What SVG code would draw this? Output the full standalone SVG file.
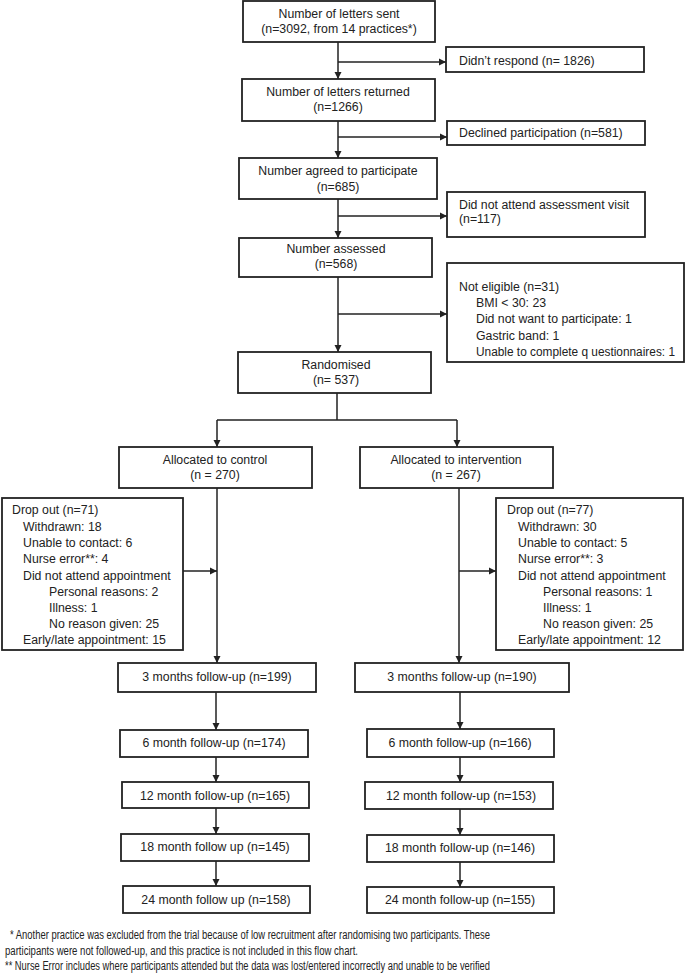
<svg xmlns="http://www.w3.org/2000/svg" width="685" height="975" viewBox="0 0 685 975">
<style>
.b{fill:#fff;stroke:#222;stroke-width:1.8}
.t{font-family:"Liberation Sans",Arial,sans-serif;font-size:12.3px;fill:#222}
.c{text-anchor:middle}
.l{fill:none;stroke:#222;stroke-width:1.5}
.f{font-family:"Liberation Sans",Arial,sans-serif;font-size:12.5px;fill:#222}
</style>
<defs>
<marker id="ah" markerUnits="userSpaceOnUse" markerWidth="8" markerHeight="8" refX="7" refY="4" orient="auto">
<path d="M0,0.5 L7,4 L0,7.5 z" fill="#222"/>
</marker>
</defs>
<rect width="685" height="975" fill="#fff"/>
<g id="connectors">
<path class="l" d="M338,42 V79" marker-end="url(#ah)"/>
<path class="l" d="M338,62 H446" marker-end="url(#ah)"/>
<path class="l" d="M338,121 V158" marker-end="url(#ah)"/>
<path class="l" d="M338,137 H447" marker-end="url(#ah)"/>
<path class="l" d="M338,199 V238" marker-end="url(#ah)"/>
<path class="l" d="M338,216 H447" marker-end="url(#ah)"/>
<path class="l" d="M338,277 V352" marker-end="url(#ah)"/>
<path class="l" d="M338,314 H447" marker-end="url(#ah)"/>
<path class="l" d="M337,393 V420 M217,420 H457"/>
<path class="l" d="M217,420 V447" marker-end="url(#ah)"/>
<path class="l" d="M457,420 V447" marker-end="url(#ah)"/>
<path class="l" d="M217,488 V663" marker-end="url(#ah)"/>
<path class="l" d="M183,571 H217" marker-end="url(#ah)"/>
<path class="l" d="M459,488 V663" marker-end="url(#ah)"/>
<path class="l" d="M459,571 H496" marker-end="url(#ah)"/>
<path class="l" d="M216,692 V730" marker-end="url(#ah)"/>
<path class="l" d="M216,757 V782" marker-end="url(#ah)"/>
<path class="l" d="M216,808 V834" marker-end="url(#ah)"/>
<path class="l" d="M216,861 V886" marker-end="url(#ah)"/>
<path class="l" d="M460,692 V729" marker-end="url(#ah)"/>
<path class="l" d="M460,757 V782" marker-end="url(#ah)"/>
<path class="l" d="M460,809 V835" marker-end="url(#ah)"/>
<path class="l" d="M460,862 V887" marker-end="url(#ah)"/>
</g>
<g id="sent"><rect class="b" x="243" y="1" width="192" height="41"/>
<text class="t c" x="339" y="18">Number of letters sent</text>
<text class="t c" x="339" y="33">(n=3092, from 14 practices*)</text></g>
<g id="norespond"><rect class="b" x="446" y="47" width="198" height="25"/>
<text class="t" x="459" y="65">Didn’t respond (n= 1826)</text></g>
<g id="returned"><rect class="b" x="242" y="79" width="193" height="42"/>
<text class="t c" x="338" y="96">Number of letters returned</text>
<text class="t c" x="338" y="111">(n=1266)</text></g>
<g id="declined"><rect class="b" x="447" y="121" width="198" height="24"/>
<text class="t" x="459" y="137">Declined participation (n=581)</text></g>
<g id="agreed"><rect class="b" x="239" y="158" width="198" height="41"/>
<text class="t c" x="338" y="175">Number agreed to participate</text>
<text class="t c" x="338" y="191">(n=685)</text></g>
<g id="noattend"><rect class="b" x="447" y="192" width="198" height="45"/>
<text class="t" x="459" y="209">Did not attend assessment visit</text>
<text class="t" x="459" y="223">(n=117)</text></g>
<g id="assessed"><rect class="b" x="239" y="238" width="193" height="39"/>
<text class="t c" x="336" y="253">Number assessed</text>
<text class="t c" x="336" y="268">(n=568)</text></g>
<g id="noteligible"><rect class="b" x="447" y="263" width="237" height="99"/>
<text class="t" x="459" y="291">Not eligible (n=31)</text>
<text class="t" x="476" y="307">BMI &lt; 30: 23</text>
<text class="t" x="476" y="323">Did not want to participate: 1</text>
<text class="t" x="476" y="340">Gastric band: 1</text>
<text class="t" x="476" y="356" textLength="199" lengthAdjust="spacingAndGlyphs">Unable to complete q uestionnaires: 1</text></g>
<g id="randomised"><rect class="b" x="238" y="352" width="193" height="41"/>
<text class="t c" x="336" y="369">Randomised</text>
<text class="t c" x="336" y="384">(n= 537)</text></g>
<g id="control"><rect class="b" x="119" y="447" width="193" height="41"/>
<text class="t c" x="215" y="464">Allocated to control</text>
<text class="t c" x="215" y="479">(n = 270)</text></g>
<g id="intervention"><rect class="b" x="360" y="447" width="193" height="41"/>
<text class="t c" x="456" y="464">Allocated to intervention</text>
<text class="t c" x="456" y="479">(n = 267)</text></g>
<g id="dropcontrol"><rect class="b" x="2" y="498" width="181" height="152"/>
<text class="t" x="12" y="514">Drop out (n=71)</text>
<text class="t" x="23" y="531">Withdrawn: 18</text>
<text class="t" x="23" y="547">Unable to contact: 6</text>
<text class="t" x="23" y="563">Nurse error**: 4</text>
<text class="t" x="23" y="580">Did not attend appointment</text>
<text class="t" x="49" y="596">Personal reasons: 2</text>
<text class="t" x="49" y="612">Illness: 1</text>
<text class="t" x="49" y="628">No reason given: 25</text>
<text class="t" x="23" y="644">Early/late appointment: 15</text></g>
<g id="dropintervention"><rect class="b" x="496" y="498" width="187" height="152"/>
<text class="t" x="507" y="514">Drop out (n=77)</text>
<text class="t" x="518" y="531">Withdrawn: 30</text>
<text class="t" x="518" y="547">Unable to contact: 5</text>
<text class="t" x="518" y="563">Nurse error**: 3</text>
<text class="t" x="518" y="580">Did not attend appointment</text>
<text class="t" x="543" y="596">Personal reasons: 1</text>
<text class="t" x="543" y="612">Illness: 1</text>
<text class="t" x="543" y="628">No reason given: 25</text>
<text class="t" x="518" y="644">Early/late appointment: 12</text></g>
<g id="c3"><rect class="b" x="118" y="663" width="198" height="29"/>
<text class="t c" x="217" y="681">3 months follow-up (n=199)</text></g>
<g id="i3"><rect class="b" x="355" y="663" width="214" height="29"/>
<text class="t c" x="462" y="681">3 months follow-up (n=190)</text></g>
<g id="c6"><rect class="b" x="120" y="730" width="188" height="27"/>
<text class="t c" x="214" y="747">6 month follow-up (n=174)</text></g>
<g id="i6"><rect class="b" x="367" y="729" width="187" height="28"/>
<text class="t c" x="460" y="747">6 month follow-up (n=166)</text></g>
<g id="c12"><rect class="b" x="122" y="782" width="187" height="26"/>
<text class="t c" x="215" y="800">12 month follow-up (n=165)</text></g>
<g id="i12"><rect class="b" x="365" y="782" width="188" height="27"/>
<text class="t c" x="461" y="800">12 month follow-up (n=153)</text></g>
<g id="c18"><rect class="b" x="121" y="834" width="188" height="27"/>
<text class="t c" x="215" y="851">18 month follow up (n=145)</text></g>
<g id="i18"><rect class="b" x="367" y="835" width="187" height="27"/>
<text class="t c" x="460" y="852">18 month follow-up (n=146)</text></g>
<g id="c24"><rect class="b" x="123" y="886" width="187" height="27"/>
<text class="t c" x="216" y="904">24 month follow up (n=158)</text></g>
<g id="i24"><rect class="b" x="367" y="887" width="187" height="26"/>
<text class="t c" x="460" y="904">24 month follow-up (n=155)</text></g>
<g id="footnotes">
<text class="f" x="10" y="939" textLength="480" lengthAdjust="spacingAndGlyphs">* Another practice was excluded from the trial because of low recruitment after randomising two participants. These</text>
<text class="f" x="5" y="955" textLength="353" lengthAdjust="spacingAndGlyphs">participants were not followed-up, and this practice is not included in this flow chart.</text>
<text class="f" x="5" y="970" textLength="485" lengthAdjust="spacingAndGlyphs">** Nurse Error includes where participants attended but the data was lost/entered  incorrectly and unable to be verified</text>
</g>
</svg>
